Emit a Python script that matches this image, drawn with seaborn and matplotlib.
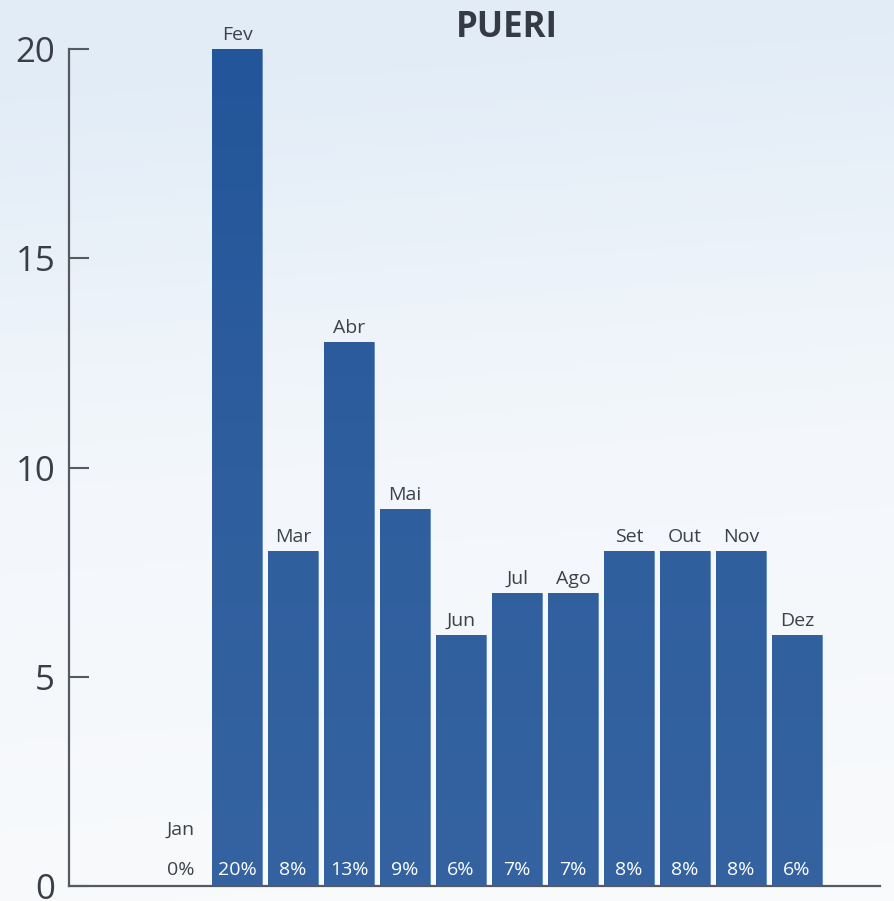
import matplotlib
matplotlib.use("Agg")
import matplotlib.pyplot as plt
import seaborn as sns
import numpy as np
from matplotlib.colors import LinearSegmentedColormap

months = ["Jan", "Fev", "Mar", "Abr", "Mai", "Jun", "Jul", "Ago", "Set", "Out", "Nov", "Dez"]
values = [0, 20, 8, 13, 9, 6, 7, 7, 8, 8, 8, 6]
pct_labels = ["0%", "20%", "8%", "13%", "9%", "6%", "7%", "7%", "8%", "8%", "8%", "6%"]
title = "PUERI"
yticks = [0, 5, 10, 15, 20]

sns.set_theme(style="white")
plt.rcParams["font.family"] = ["Open Sans", "DejaVu Sans"]

fig = plt.figure(figsize=(8.95, 9.01), dpi=100)

# background gradient (light blue top -> near white bottom)
bg = fig.add_axes([0, 0, 1, 1], zorder=-10)
bg_cmap = LinearSegmentedColormap.from_list("bg", ["#f8fafc", "#f3f7fb", "#e1ecf7"])
yy = np.linspace(0, 1, 256)[:, None]
xx = np.linspace(0, 1, 256)[None, :]
grad = np.clip(yy * 1.05 - 0.08 * xx + 0.02, 0, 1)
bg.imshow(grad, cmap=bg_cmap, origin="lower", aspect="auto", extent=(0, 1, 0, 1))
bg.set_axis_off()

ax = fig.add_axes([69 / 895, 1 - 886 / 901, (880 - 69) / 895, (886 - 49) / 901])
ax.set_facecolor("none")

sns.barplot(x=months, y=values, color="#2e5e9e", width=0.89, ax=ax,
            edgecolor="#6088bb", linewidth=0.6, zorder=2)

# vertical gradient inside the bars
bar_cmap = LinearSegmentedColormap.from_list("bars", ["#3563a1", "#2f5e9e", "#22559a"])
ramp = np.linspace(0, 1, 256)[:, None]
for patch in ax.patches:
    x0 = patch.get_x()
    w = patch.get_width()
    h = patch.get_height()
    if h <= 0:
        continue
    im = ax.imshow(ramp, cmap=bar_cmap, origin="lower", aspect="auto",
                   extent=(x0, x0 + w, 0, 20), zorder=2.5)
    im.set_clip_path(patch)

ax.set_xlim(-2.0, 12.48)
ax.set_ylim(0, 20)

for i, (v, lab, pct) in enumerate(zip(values, months, pct_labels)):
    ax.annotate(lab, (i, max(v, 1.0)), xytext=(0, 6.5), textcoords="offset points",
                ha="center", va="baseline", fontsize=14, color="#3d424a", zorder=4)
    ax.annotate(pct, (i, 0), xytext=(0, 8), textcoords="offset points",
                ha="center", va="baseline", fontsize=14,
                color="white" if v > 0 else "#3d424a", zorder=4)

sns.despine(ax=ax, top=True, right=True)
for side in ["left", "bottom"]:
    ax.spines[side].set_color("#555a60")
    ax.spines[side].set_linewidth(1.6)
    ax.spines[side].set_zorder(5)

ax.set_yticks(yticks)
ax.set_yticklabels([str(t) for t in yticks])
ax.tick_params(axis="y", direction="in", length=14.4, width=1.5, color="#555a60",
               pad=10, labelsize=25, labelcolor="#3a3f47", left=True)
ax.tick_params(axis="x", bottom=False, labelbottom=False)
ax.set_xlabel("")
ax.set_ylabel("")

fig.text(507 / 895, 1 - 28 / 901, title, ha="center", va="center",
         fontsize=25, fontweight="bold", color="#353b45")

fig.savefig("out.png", dpi=100)
